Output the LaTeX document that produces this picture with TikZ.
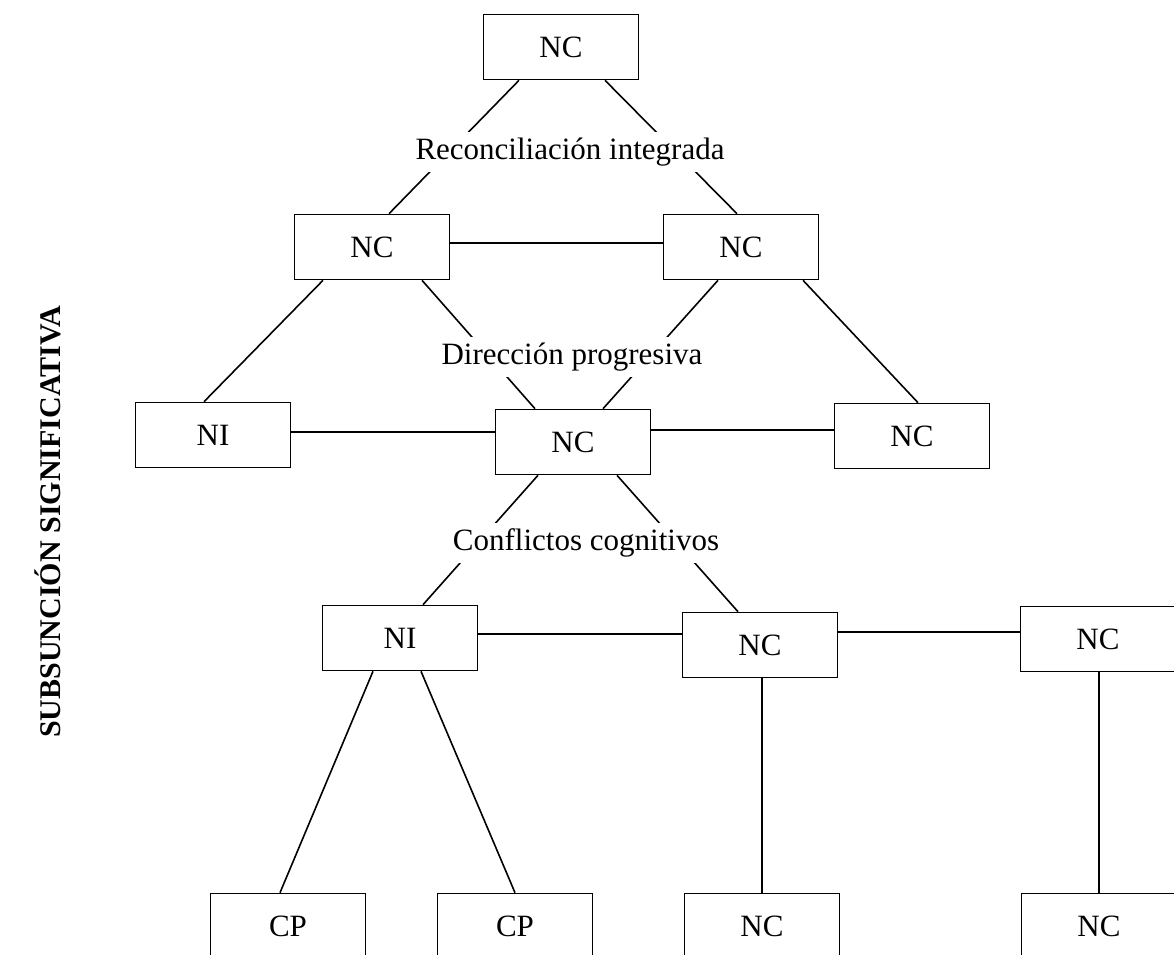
\documentclass[tikz,border=0pt]{standalone}
\usepackage{fontspec}
\setmainfont{Liberation Serif}
\begin{document}
\begin{tikzpicture}[x=1pt,y=-1pt,line width=1.6pt,
  box/.style={draw,rectangle,minimum width=155pt,minimum height=65pt,inner sep=0pt,font=\fontsize{31}{36}\selectfont},
  tag/.style={fill=white,inner xsep=3pt,inner ysep=0pt,minimum height=40pt,font=\fontsize{31}{36}\selectfont}]
\useasboundingbox (0,0) rectangle (1174,954);
\clip (0,0) rectangle (1174,954);

\path (561,47) node[box] (top) {NC};
\path (372,247) node[box] (ncA) {NC};
\path (741,247) node[box] (ncB) {NC};
\path (213,435) node[box] (niA) {NI};
\path (573,442) node[box] (ncC) {NC};
\path (912,436) node[box] (ncD) {NC};
\path (400,638) node[box] (niB) {NI};
\path (760,645) node[box] (ncE) {NC};
\path (1098,639) node[box] (ncF) {NC};
\path (288,926) node[box] (cpA) {CP};
\path (515,926) node[box] (cpB) {CP};
\path (762,926) node[box] (ncG) {NC};
\path (1099,926) node[box] (ncH) {NC};

\draw ([xshift=-42pt]top.south) -- ([xshift=17pt]ncA.north);
\draw ([xshift=44pt]top.south) -- ([xshift=-4pt]ncB.north);
\draw ([yshift=4pt]ncA.east) -- ([yshift=4pt]ncB.west);
\draw ([xshift=-49pt]ncA.south) -- ([xshift=-9pt]niA.north);
\draw ([xshift=50pt]ncA.south) -- ([xshift=-38pt]ncC.north);
\draw ([xshift=-23pt]ncB.south) -- ([xshift=30pt]ncC.north);
\draw ([xshift=62pt]ncB.south) -- ([xshift=6pt]ncD.north);
\draw ([yshift=3pt]niA.east) -- ([yshift=3pt]niA.east -| ncC.west);
\draw ([yshift=6pt]ncD.west -| ncC.east) -- ([yshift=6pt]ncD.west);
\draw ([xshift=-35pt]ncC.south) -- ([xshift=23pt]niB.north);
\draw ([xshift=44pt]ncC.south) -- ([xshift=-22pt]ncE.north);
\draw ([yshift=4pt]niB.east) -- ([yshift=4pt]niB.east -| ncE.west);
\draw ([yshift=7pt]ncF.west -| ncE.east) -- ([yshift=7pt]ncF.west);
\draw ([xshift=-27pt]niB.south) -- ([xshift=-8pt]cpA.north);
\draw ([xshift=21pt]niB.south) -- (cpB.north);
\draw (ncG.north |- ncE.south) -- (ncG.north);
\draw (ncH.north |- ncF.south) -- (ncH.north);

\path (570,152) node[tag] (recon) {Reconciliación integrada};
\path (572,357) node[tag] (direc) {Dirección progresiva};
\path (586,543) node[tag] (confl) {Conflictos cognitivos};

\path (48,522) node[rotate=90,font=\bfseries\fontsize{30}{36}\selectfont] (subs) {SUBSUNCIÓN SIGNIFICATIVA};
\end{tikzpicture}
\end{document}
